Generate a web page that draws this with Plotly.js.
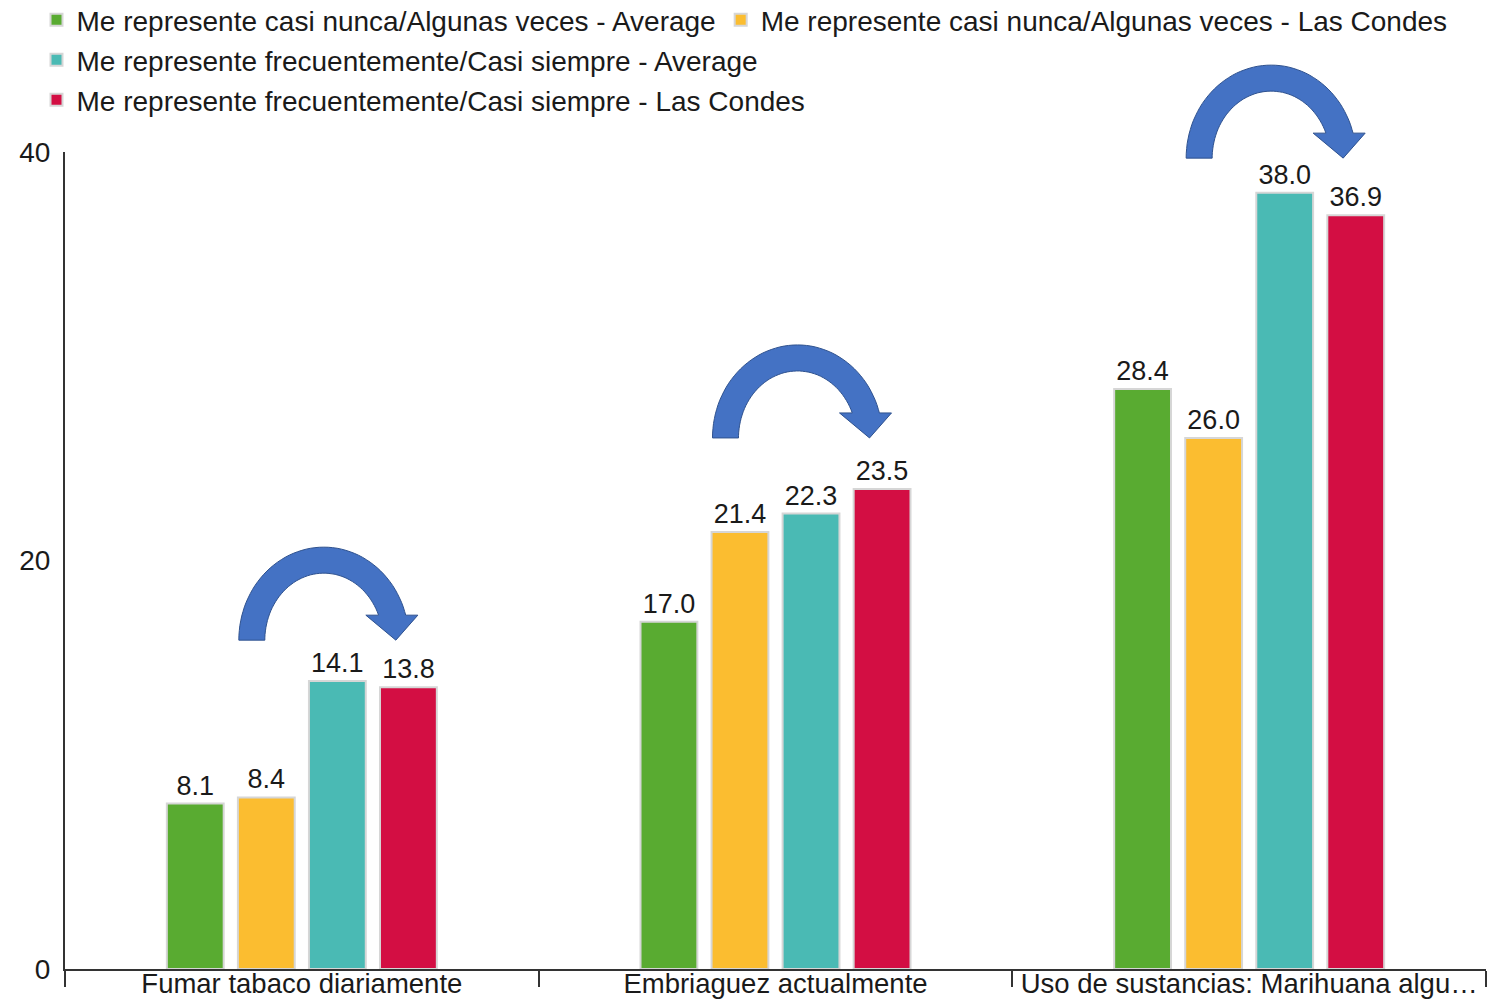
<!DOCTYPE html>
<html>
<head>
<meta charset="utf-8">
<script src="https://cdn.plot.ly/plotly-3.0.1.min.js"></script>
<style>html,body{margin:0;padding:0;background:#fff;}#chart{width:1494px;height:1002px;}</style>
</head>
<body>
<div id="chart"></div>
<script>
const categories = ["Fumar tabaco diariamente", "Embriaguez actualmente", "Uso de sustancias: Marihuana algu…"];
const seriesNames = [
  "Me represente casi nunca/Algunas veces - Average",
  "Me represente casi nunca/Algunas veces - Las Condes",
  "Me represente frecuentemente/Casi siempre - Average",
  "Me represente frecuentemente/Casi siempre - Las Condes"
];
const casiNuncaAverage = [8.1, 17.0, 28.4];
const casiNuncaLasCondes = [8.4, 21.4, 26.0];
const frecuenteAverage = [14.1, 22.3, 38.0];
const frecuenteLasCondes = [13.8, 23.5, 36.9];
const seriesColors = ["#59AB31", "#FBBD30", "#4ABAB4", "#D30E43"];
const yTicks = [0, 20, 40];
const yMax = 40;
// vertical position (in y units) of the base of each blue decorative arrow
const arrowBaseY = [16.1, 26.0, 39.7];

const seriesValues = [casiNuncaAverage, casiNuncaLasCondes, frecuenteAverage, frecuenteLasCondes];
const legendIds = ["legend", "legend", "legend2", "legend3"];
const FONT = "Liberation Sans, Arial, sans-serif";

const traces = seriesValues.map((vals, i) => ({
  type: "bar",
  name: seriesNames[i],
  legend: legendIds[i],
  x: categories,
  y: vals,
  text: vals.map(v => v.toFixed(1)),
  textposition: "outside",
  textfont: {family: FONT, size: 27, color: "#1a1a1a"},
  cliponaxis: false,
  marker: {color: seriesColors[i], line: {color: "#d6d6d6", width: 2}},
  hoverinfo: "x+y+name"
}));

function arrowPath(dx) {
  const ro = {x: 85, y: 93}, ri = {x: 59, y: 67};
  const pts = [];
  const aOutEnd = Math.asin(25 / ro.y) * 180 / Math.PI;
  const aInEnd = Math.asin(25 / ri.y) * 180 / Math.PI;
  for (let a = 180; a > aOutEnd; a -= 3) {
    const r = a * Math.PI / 180;
    pts.push([dx + ro.x * Math.cos(r), ro.y * Math.sin(r)]);
  }
  let r = aOutEnd * Math.PI / 180;
  pts.push([dx + ro.x * Math.cos(r), 25]);
  pts.push([dx + 94, 25]);
  pts.push([dx + 72, 0]);
  pts.push([dx + 42, 25]);
  r = aInEnd * Math.PI / 180;
  pts.push([dx + ri.x * Math.cos(r), 25]);
  for (let a = Math.ceil(aInEnd); a <= 180; a += 3) {
    const rr = a * Math.PI / 180;
    pts.push([dx + ri.x * Math.cos(rr), ri.y * Math.sin(rr)]);
  }
  pts.push([dx - ri.x, 0]);
  return "M" + pts.map(p => p[0].toFixed(1) + "," + p[1].toFixed(1)).join(" L") + " Z";
}

const shapes = categories.map((c, i) => ({
  type: "path",
  xref: "x", yref: "paper",
  xsizemode: "pixel", ysizemode: "pixel",
  xanchor: c, yanchor: arrowBaseY[i] / yMax,
  path: arrowPath(22),
  fillcolor: "#4472C4",
  line: {color: "#2F528F", width: 1},
  layer: "above"
}));

function legendAt(centerPx) {
  return {
    orientation: "h",
    xref: "container", yref: "container",
    x: 36.5 / 1494, y: 1 - centerPx / 1002, xanchor: "left", yanchor: "middle",
    font: {family: FONT, size: 28, color: "#1a1a1a"},
    bgcolor: "rgba(0,0,0,0)",
    traceorder: "normal"
  };
}

const layout = {
  width: 1494, height: 1002,
  margin: {l: 65, r: 8, t: 152, b: 33, pad: 0, autoexpand: false},
  paper_bgcolor: "#ffffff", plot_bgcolor: "#ffffff",
  font: {family: FONT, size: 28, color: "#1a1a1a"},
  barmode: "group",
  bargap: 0.40,
  bargroupgap: 0.2,
  showlegend: true,
  legend: legendAt(20),
  legend2: legendAt(60),
  legend3: legendAt(100),
  xaxis: {
    type: "category",
    showgrid: false,
    zeroline: false,
    showline: true, linecolor: "#333333", linewidth: 2,
    ticks: "outside", tickson: "boundaries", ticklen: 16, tickwidth: 2, tickcolor: "#333333",
    tickangle: 0,
    ticklabelstandoff: -11,
    tickfont: {family: FONT, size: 27.5, color: "#1a1a1a"},
    fixedrange: true
  },
  yaxis: {
    range: [0, yMax],
    tickvals: yTicks,
    ticktext: yTicks.map(String),
    showgrid: false,
    zeroline: false,
    showline: true, linecolor: "#333333", linewidth: 2,
    ticks: "",
    ticklabelstandoff: 7,
    tickfont: {family: FONT, size: 28, color: "#1a1a1a"},
    fixedrange: true
  },
  shapes: shapes
};

Plotly.newPlot("chart", traces, layout, {displayModeBar: false, staticPlot: true});
</script>
</body>
</html>
